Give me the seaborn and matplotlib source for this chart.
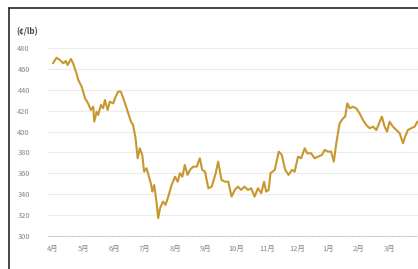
import matplotlib
matplotlib.use("Agg")
import matplotlib.pyplot as plt
from matplotlib.lines import Line2D
import seaborn as sns
import pandas as pd

# x position in months since start of April (0 = 4月), y price in ¢/lb
month_pos = [0.0, 0.12, 0.23, 0.34, 0.42, 0.48, 0.59, 0.66, 0.77, 0.83, 0.94,
             1.05, 1.15, 1.24, 1.32, 1.35, 1.43, 1.48, 1.57, 1.64, 1.70, 1.79,
             1.86, 1.97, 2.05, 2.13, 2.22, 2.30, 2.41, 2.55, 2.62, 2.70, 2.77,
             2.84, 2.92, 2.98, 3.06, 3.14, 3.20, 3.25, 3.31, 3.39, 3.44, 3.50,
             3.60, 3.68, 3.77, 3.88, 3.99, 4.08, 4.15, 4.23, 4.31, 4.40, 4.48,
             4.58, 4.70, 4.80, 4.88, 4.97, 5.08, 5.19, 5.32, 5.40, 5.51, 5.62,
             5.73, 5.84, 5.94, 6.05, 6.15, 6.26, 6.37, 6.48, 6.59, 6.70, 6.81,
             6.90, 6.97, 7.05, 7.11, 7.25, 7.38, 7.48, 7.59, 7.70, 7.81, 7.90,
             8.01, 8.11, 8.23, 8.31, 8.44, 8.55, 8.66, 8.79, 8.88, 8.99, 9.09,
             9.18, 9.26, 9.37, 9.48, 9.55, 9.62, 9.70, 9.80, 9.91, 10.02, 10.13,
             10.24, 10.35, 10.46, 10.57, 10.68, 10.75, 10.84, 10.92, 11.00,
             11.11, 11.22, 11.33, 11.44, 11.51, 11.60, 11.71, 11.82, 11.91]
price = [465.4, 470.7, 468.5, 465.4, 467.6, 463.7, 469.5, 465.4, 455.8, 449.4, 443.0,
         431.9, 427.0, 420.7, 423.8, 409.5, 419.0, 415.9, 425.5, 422.3, 430.2, 420.7,
         428.6, 427.0, 433.4, 438.2, 438.2, 431.9, 422.3, 409.5, 406.3, 393.6, 374.4,
         384.0, 377.6, 361.6, 364.9, 356.8, 350.5, 342.5, 348.9, 331.4, 317.0, 326.6,
         332.9, 329.8, 337.7, 348.9, 356.8, 352.0, 360.1, 356.8, 368.0, 358.5, 363.3,
         366.4, 366.4, 374.4, 363.3, 361.6, 345.7, 347.3, 360.1, 371.2, 353.7, 352.0,
         352.0, 337.7, 344.1, 347.3, 344.1, 347.3, 344.1, 345.7, 337.7, 345.7, 341.0,
         352.0, 342.5, 344.1, 360.1, 363.3, 380.8, 377.6, 363.3, 358.5, 363.3, 361.6,
         376.0, 374.4, 384.0, 379.2, 379.2, 374.4, 376.0, 377.6, 382.4, 380.8, 380.8,
         371.2, 388.8, 407.9, 412.7, 414.3, 427.0, 422.3, 423.8, 422.3, 417.5, 411.1,
         406.3, 403.2, 404.7, 401.5, 409.5, 414.3, 404.7, 399.9, 409.5,
         404.7, 401.5, 398.4, 388.8, 395.1, 401.5, 403.2, 404.7, 409.5]

month_labels = ["4月", "5月", "6月", "7月", "8月", "9月", "10月", "11月", "12月", "1月", "2月", "3月"]
y_ticks = [300, 320, 340, 360, 380, 400, 420, 440, 460, 480]
unit_label = "(¢/lb)"

df = pd.DataFrame({"month": month_pos, "price": price})

sns.set_style("white")
plt.rcParams["font.family"] = ["Noto Sans CJK SC", "DejaVu Sans"]

fig = plt.figure(figsize=(4.18, 2.69), dpi=100)
fig.patch.set_facecolor("white")
ax = fig.add_axes([48 / 418, (269 - 236) / 269, 370 / 418, (236 - 42.8) / 269])

for v in y_ticks[1:]:
    ax.axhline(v, color="#ececec", lw=0.8, zorder=0)

sns.lineplot(data=df, x="month", y="price", ax=ax, color="#C8982E", lw=1.5, zorder=3)

ax.set_xlim(-0.16, 11.93)
ax.set_ylim(300, 485)
ax.set_xticks(range(len(month_labels)))
ax.set_xticklabels(month_labels)
ax.set_yticks(y_ticks)
ax.set_yticklabels([str(v) for v in y_ticks])
ax.tick_params(axis="both", length=0, labelsize=5.4, colors="#858585")
ax.tick_params(axis="y", pad=13)
ax.tick_params(axis="x", pad=6.5)
ax.set_xlabel("")
ax.set_ylabel("")
for s in ["top", "right", "left"]:
    ax.spines[s].set_visible(False)
ax.spines["bottom"].set_color("#c8c8c8")
ax.spines["bottom"].set_linestyle((0, (1.5, 1.5)))
ax.spines["bottom"].set_linewidth(0.8)

fig.text(16 / 418, 1 - 32 / 269, unit_label, fontsize=5.8, fontweight="bold",
         color="#4a4a4a", ha="left", va="center")

# frame lines (top and left) as in the cropped original
fig.add_artist(Line2D([9 / 418, 1.0], [1 - 8 / 269, 1 - 8 / 269], color="#2e2520", lw=1.2,
                      transform=fig.transFigure))
fig.add_artist(Line2D([9 / 418, 9 / 418], [0, 1 - 8 / 269], color="#2e2520", lw=1.2,
                      transform=fig.transFigure))

fig.savefig("out.png", dpi=100, facecolor="white")
